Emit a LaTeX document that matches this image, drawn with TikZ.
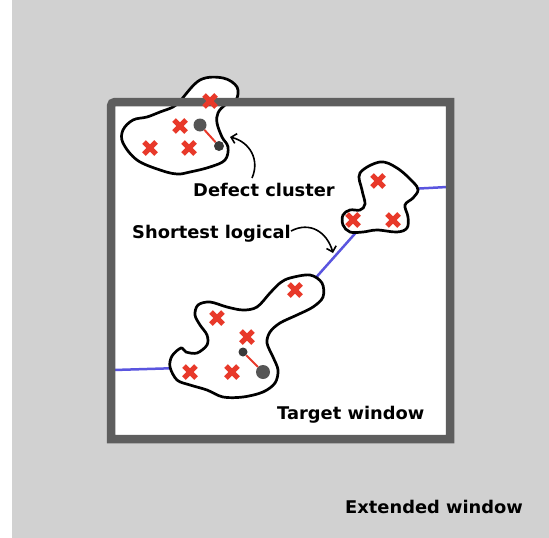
\documentclass[tikz,border=0pt]{standalone}
\usepackage{fontspec}
\setmainfont{DejaVu Sans}[FakeStretch=1.02]
\usetikzlibrary{arrows.meta}
\definecolor{bg}{HTML}{D1D1D1}
\definecolor{framegray}{HTML}{5E5E5E}
\definecolor{xred}{HTML}{E8392A}
\definecolor{pathblue}{HTML}{5A55DF}
\definecolor{defbig}{HTML}{555555}
\definecolor{defsmall}{HTML}{3A3A3A}
\begin{document}
\begin{tikzpicture}[x=1pt,y=-1pt,
  blob/.style={draw=black,line width=2.7pt,fill=white},
  lbl/.style={font=\bfseries\fontsize{17.5}{20}\selectfont,inner sep=0pt,anchor=base west},
  logical/.style={draw=pathblue,line width=2.5pt},
  pointer/.style={draw=black,line width=1.6pt,-{Straight Barb[length=5pt,width=10pt]}},
  framestyle/.style={draw=framegray,line width=8.5pt},
  chain/.style={draw=xred,line width=2pt},
  xmark/.pic={\draw[xred,line width=5pt] (-6,-6)--(6,6) (-6,6)--(6,-6);}]
\useasboundingbox (0,0) rectangle (549,538);
\fill[bg] (12,0) rectangle (549,538);
% target window interior
\fill[white] (111,102) rectangle (450,439);

% anchor points of the logical path
\coordinate (leftedge) at (114,370);
\coordinate (leftin) at (180,368);
\coordinate (rightedge) at (447,187);
\coordinate (rightin) at (410,189);
\coordinate (midA) at (360,228);
\coordinate (midB) at (312,282);
\draw[logical] (leftedge) -- (leftin);
\draw[logical] (rightin) -- (rightedge);
\draw[logical] (midA) -- (midB);

% defect clusters
\draw[blob] plot[smooth cycle,tension=0.6] coordinates {
  (180,101) (200,80) (223,78) (237,87) (236,100) (225,105) (218,113)
  (217,123) (222,137) (228,147) (225,160) (210,167) (190,172) (177,174)
  (160,170) (137,160) (123,143) (123,130) (133,120) (147,117) (160,112) (173,107)};
\draw[blob] plot[smooth cycle,tension=0.6] coordinates {
  (360,173) (380,162) (397,168) (413,182) (418,190) (413,198) (405,205)
  (408,217) (407,228) (397,232) (377,230) (363,232) (350,232) (343,225)
  (343,215) (350,210) (360,210) (365,204) (362,190)};
\draw[blob] plot[smooth cycle,tension=0.55] coordinates {
  (290,278) (310,275) (322,283) (323,297) (313,307) (297,315) (280,323)
  (270,332) (267,343) (273,357) (278,370) (275,383) (263,392) (243,397)
  (223,397) (207,390) (190,385) (177,380) (170,367) (172,356) (181,348)
  (186,352) (197,353) (207,345) (207,335) (200,325) (195,315) (198,305)
  (210,302) (227,307) (243,310) (257,307) (270,293) (280,283)};

% target window frame
\draw[framestyle] (450,439) -- (111,439) [rounded corners=4pt] -- (111,102) [sharp corners] -- (450,102) -- cycle;

% errors
\foreach \p in {(210,101),(180,126),(150,148),(189,148),
                (378,181),(353,220),(393,220),
                (295,290),(217,318),(247,337),(190,372),(232,372)}
  \pic at \p {xmark};

% matched defect pairs
\node[circle,fill=defbig,minimum size=13pt,inner sep=0pt] (d1a) at (200,125) {};
\node[circle,fill=defsmall,minimum size=10pt,inner sep=0pt] (d1b) at (219,146) {};
\draw[chain] (d1a) -- (d1b);
\node[circle,fill=defsmall,minimum size=9pt,inner sep=0pt] (d3a) at (243,352) {};
\node[circle,fill=defbig,minimum size=14pt,inner sep=0pt] (d3b) at (263,372) {};
\draw[chain] (d3a) -- (d3b);

% labels
\node[lbl] (dc) at (193,196) {Defect cluster};
\node[lbl] (sl) at (132,238) {Shortest logical};
\node[lbl] (tw) at (277,419) {Target window};
\node[lbl] (ew) at (345,513) {Extended window};

\coordinate (dcfrom) at (252,178);
\coordinate (dcto) at (230,137);
\coordinate (slfrom) at (291,231);
\coordinate (slto) at (333,253);
\draw[pointer] (dcfrom) .. controls (260,160) and (250,142) .. (dcto);
\draw[pointer] (slfrom) .. controls (310,221) and (327,232) .. (slto);
\end{tikzpicture}
\end{document}
